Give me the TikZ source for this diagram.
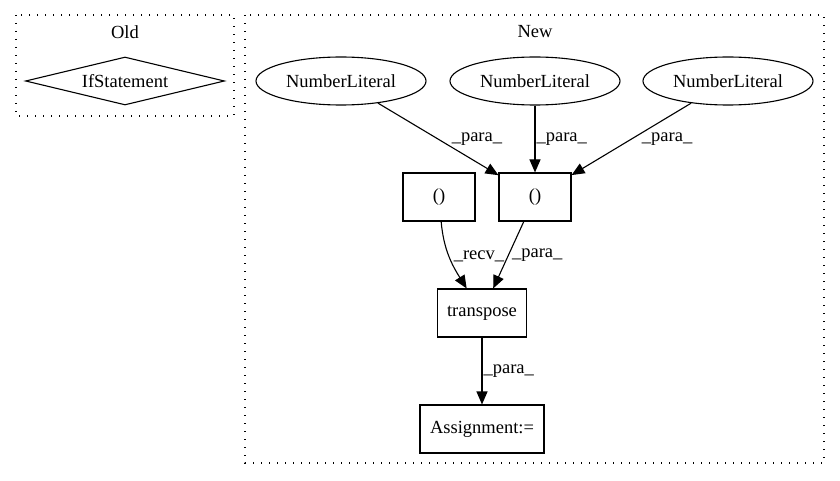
\documentclass[tikz,border=0pt]{standalone}
\usepackage{fontspec}
\setmainfont{Liberation Serif}
\usetikzlibrary{shapes.geometric, arrows.meta}
\tikzstyle{cluster} = [draw=black, line width=1.3pt, dash pattern=on 1.3pt off 6.7pt]
\tikzstyle{literal} = [ellipse, draw=black, line width=1.1pt,
minimum width=170pt,
minimum height=48pt,
inner sep=0pt]
\tikzstyle{box} = [rectangle, draw=black, line width=1.1pt,
minimum width=72pt,
minimum height=48pt,
inner xsep=10pt,
text centered]
\tikzstyle{cond} = [diamond, draw=black, line width=1.1pt,
aspect=4.15,
minimum width=199pt,
minimum height=48pt,
inner sep=0pt]
\tikzstyle{arrow} = [line width=1.1pt, -{Triangle[length=13pt,width=11pt]}]
\tikzstyle{elabel} = [anchor=west, inner sep=1pt]

\begin{document}
\begin{tikzpicture}[x=1pt, y=1pt, font=\fontsize{18.5}{22}\selectfont]
        \useasboundingbox (0,0) rectangle (840,480);
        % clusters
        \draw [cluster] (16,465) rectangle (234,364);
        \node (oldtitle) at (125,448) {Old};
        \draw [cluster] (245,465) rectangle (824,17);
        \node (newtitle) at (535,448) {New};
        % old
        \node (ifst) [cond] at (125,399) {IfStatement};
        % new
        \node (lit1) [literal] at (341,399) {NumberLiteral};
        \node (lit2) [literal] at (535,399) {NumberLiteral};
        \node (lit3) [literal] at (728,399) {NumberLiteral};
        \node (tuple2) [box] at (535,283) {()};
        \node (tuple1) [box] at (439,283) {()};
        \node (transpose) [box] at (482,167) {transpose};
        \node (assign) [box] at (482,51) {Assignment:=};
        \draw [arrow] (lit1) -- node[elabel, pos=0.5, xshift=12pt] {\_para\_} (tuple2);
        \draw [arrow] (lit2) -- node[elabel, pos=0.5] {\_para\_} (tuple2);
        \draw [arrow] (lit3) -- node[elabel, pos=0.5, xshift=9pt] {\_para\_} (tuple2);
        \draw [arrow] (tuple1) to[out=-85, in=122] node[elabel, pos=0.5, xshift=3pt] {\_recv\_} (transpose);
        \draw [arrow] (tuple2) -- node[elabel, pos=0.5, xshift=2pt] {\_para\_} (transpose);
        \draw [arrow] (transpose) -- node[elabel, pos=0.5] {\_para\_} (assign);
    \end{tikzpicture}
\end{document}
